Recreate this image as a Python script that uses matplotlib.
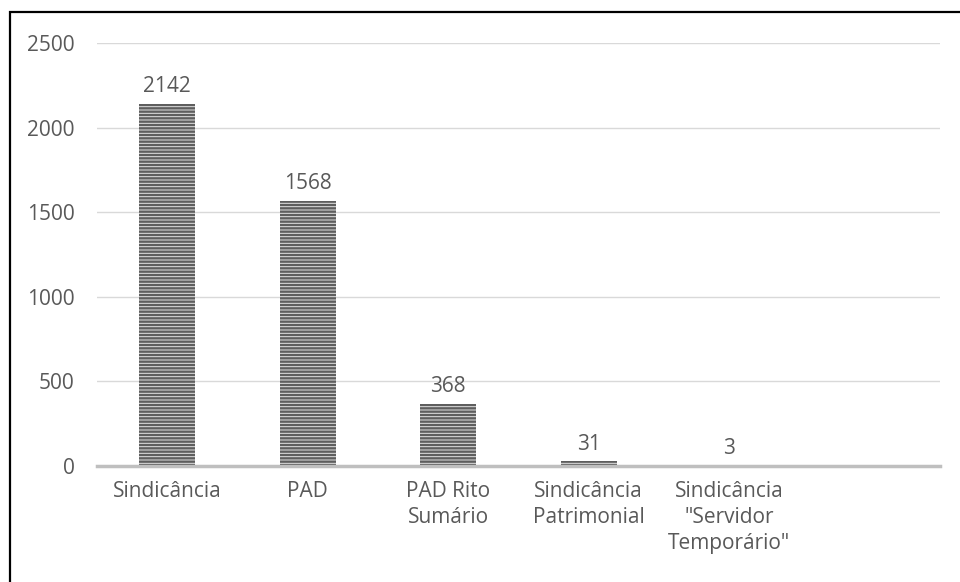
import matplotlib
matplotlib.use("Agg")
import matplotlib.pyplot as plt
from matplotlib.patches import Rectangle

categories = ["Sindicância", "PAD", "PAD Rito\nSumário", "Sindicância\nPatrimonial",
              "Sindicância\n\"Servidor\nTemporário\"", ""]
values = [2142, 1568, 368, 31, 3, 0]
yticks = [0, 500, 1000, 1500, 2000, 2500]

plt.rcParams['font.family'] = ['Open Sans', 'DejaVu Sans']
plt.rcParams['hatch.linewidth'] = 1.7

W, H = 960, 582
fig = plt.figure(figsize=(W/100, H/100), dpi=100)
ax = fig.add_axes([97/W, 1-466/H, (940-97)/W, (466-43)/H])

txt = '#595959'
fs = 15
x = list(range(len(categories)))
bars = ax.bar(x[:5], values[:5], width=0.4, color='#e2e2e2', edgecolor='#5e5e5e',
              linewidth=0, hatch='-----', zorder=3)
for xi, v in zip(x[:5], values[:5]):
    ax.annotate(str(v), (xi, v), xytext=(0, 4.5), textcoords='offset points',
                ha='center', va='bottom', fontsize=fs, color=txt)

ax.set_xlim(-0.5, 5.5)
ax.set_ylim(0, 2500)
ax.set_yticks(yticks)
ax.set_yticklabels([str(t) for t in yticks], fontsize=fs, color=txt)
ax.set_xticks(x)
ax.set_xticklabels(categories, fontsize=fs, color=txt, linespacing=1.3, va='top')
ax.tick_params(axis='both', length=0)
ax.tick_params(axis='y', pad=16)
ax.tick_params(axis='x', pad=11)
ax.grid(axis='y', color='#d9d9d9', linewidth=1, zorder=0)
for s in ['top', 'right', 'left']:
    ax.spines[s].set_visible(False)
ax.spines['bottom'].set_color('#bfbfbf')
ax.spines['bottom'].set_linewidth(2.5)
ax.spines['bottom'].set_zorder(4)

fig.patches.append(Rectangle((9.5/W, -0.1), 1.2, 1-12/H+0.1, transform=fig.transFigure,
                             fill=False, edgecolor='black', linewidth=1.6))

fig.savefig("out.png", dpi=100)
